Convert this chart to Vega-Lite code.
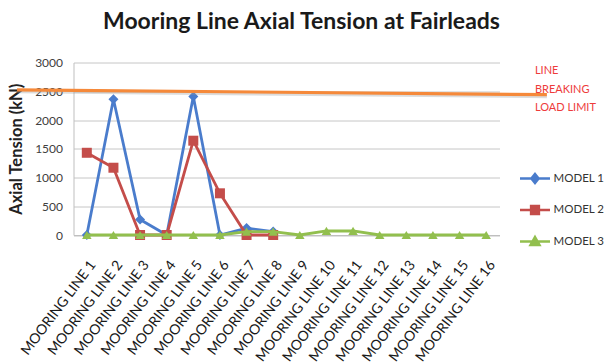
{
  "$schema": "https://vega.github.io/schema/vega-lite/v6.json",
  "autosize": {"type": "none"},
  "padding": {"left": 73.5, "top": 62.5, "right": 104.5, "bottom": 127},
  "width": 426,
  "height": 172.5,
  "background": "white",
  "title": {
    "text": "Mooring Line Axial Tension at Fairleads",
    "font": "Lato",
    "fontSize": 23,
    "fontWeight": "bold",
    "color": "#1a1a1a",
    "anchor": "middle",
    "dx": 15,
    "offset": 23
  },
  "config": {
    "view": {"stroke": null},
    "font": "Lato",
    "axis": {"labelOverlap": false}
  },
  "datasets": {
    "tension": [
      {"line": "MOORING LINE 1", "model": "MODEL 1", "kN": 0},
      {"line": "MOORING LINE 2", "model": "MODEL 1", "kN": 2360},
      {"line": "MOORING LINE 3", "model": "MODEL 1", "kN": 270},
      {"line": "MOORING LINE 4", "model": "MODEL 1", "kN": 0},
      {"line": "MOORING LINE 5", "model": "MODEL 1", "kN": 2410},
      {"line": "MOORING LINE 6", "model": "MODEL 1", "kN": 0},
      {"line": "MOORING LINE 7", "model": "MODEL 1", "kN": 120},
      {"line": "MOORING LINE 8", "model": "MODEL 1", "kN": 60},
      {"line": "MOORING LINE 1", "model": "MODEL 2", "kN": 1430},
      {"line": "MOORING LINE 2", "model": "MODEL 2", "kN": 1170},
      {"line": "MOORING LINE 3", "model": "MODEL 2", "kN": 0},
      {"line": "MOORING LINE 4", "model": "MODEL 2", "kN": 0},
      {"line": "MOORING LINE 5", "model": "MODEL 2", "kN": 1640},
      {"line": "MOORING LINE 6", "model": "MODEL 2", "kN": 725},
      {"line": "MOORING LINE 7", "model": "MODEL 2", "kN": 0},
      {"line": "MOORING LINE 8", "model": "MODEL 2", "kN": 0},
      {"line": "MOORING LINE 1", "model": "MODEL 3", "kN": 0},
      {"line": "MOORING LINE 2", "model": "MODEL 3", "kN": 0},
      {"line": "MOORING LINE 3", "model": "MODEL 3", "kN": 0},
      {"line": "MOORING LINE 4", "model": "MODEL 3", "kN": 0},
      {"line": "MOORING LINE 5", "model": "MODEL 3", "kN": 0},
      {"line": "MOORING LINE 6", "model": "MODEL 3", "kN": 0},
      {"line": "MOORING LINE 7", "model": "MODEL 3", "kN": 60},
      {"line": "MOORING LINE 8", "model": "MODEL 3", "kN": 60},
      {"line": "MOORING LINE 9", "model": "MODEL 3", "kN": 0},
      {"line": "MOORING LINE 10", "model": "MODEL 3", "kN": 70},
      {"line": "MOORING LINE 11", "model": "MODEL 3", "kN": 70},
      {"line": "MOORING LINE 12", "model": "MODEL 3", "kN": 0},
      {"line": "MOORING LINE 13", "model": "MODEL 3", "kN": 0},
      {"line": "MOORING LINE 14", "model": "MODEL 3", "kN": 0},
      {"line": "MOORING LINE 15", "model": "MODEL 3", "kN": 0},
      {"line": "MOORING LINE 16", "model": "MODEL 3", "kN": 0}
    ],
    "limit": [
      {"pos": -2.62, "kN": 2525},
      {"pos": 17.28, "kN": 2440}
    ],
    "limitLabel": [
      {"pos": 16.83, "kN": 2525, "label": "LINE\nBREAKING\nLOAD LIMIT"}
    ]
  },
  "encoding": {
    "y": {
      "field": "kN",
      "type": "quantitative",
      "scale": {"domain": [0, 3000], "nice": false},
      "axis": {
        "title": "Axial Tension (kN)",
        "titleFont": "Lato",
        "titleFontSize": 16.5,
        "titleFontWeight": "bold",
        "titleColor": "#222222",
        "titlePadding": 10,
        "values": [0, 500, 1000, 1500, 2000, 2500, 3000],
        "format": "d",
        "labelOverlap": false,
        "labelFont": "Lato",
        "labelFontSize": 12,
        "labelColor": "#404040",
        "labelPadding": 11,
        "ticks": false,
        "domainColor": "#bfbfbf",
        "gridColor": "#c6c6c6",
        "gridWidth": 1
      }
    }
  },
  "layer": [
    {
      "data": {"name": "tension"},
      "encoding": {
        "x": {
          "field": "line",
          "type": "ordinal",
          "sort": null,
          "scale": {"type": "point", "padding": 0.5},
          "axis": {
            "title": null,
            "labelAngle": -53,
            "labelAlign": "right",
            "labelBaseline": "middle",
            "labelFont": "Lato",
            "labelFontSize": 14,
            "labelColor": "#1a1a1a",
            "labelPadding": 27,
            "labelOffset": 6,
            "labelOverlap": false,
            "ticks": false,
            "domainColor": "#bfbfbf",
            "grid": false
          }
        },
        "color": {
          "field": "model",
          "type": "nominal",
          "scale": {
            "domain": ["MODEL 1", "MODEL 2", "MODEL 3"],
            "range": ["#4a7ccc", "#c44d4a", "#92bf4e"]
          },
          "legend": {
            "title": null,
            "orient": "none",
            "legendX": 445,
            "legendY": 99.5,
            "padding": 0,
            "symbolSize": 900,
            "symbolStrokeWidth": 2.5,
            "rowPadding": 5.5,
            "labelOffset": 2,
            "labelFont": "Lato",
            "labelFontSize": 11.5,
            "labelColor": "#333333",
            "encode": {
              "symbols": {
                "update": {
                  "shape": {"signal": "datum.value === 'MODEL 1' ? 'M-1,0H1M0,-0.3L0.24,0L0,0.3L-0.24,0Z' : datum.value === 'MODEL 2' ? 'M-1,0H1M-0.26,-0.26H0.26V0.26H-0.26Z' : 'M-1,0H1M0,-0.3L0.3,0.24H-0.3Z'"},
                  "fill": {"scale": "color", "field": "value"},
                  "stroke": {"scale": "color", "field": "value"},
                  "strokeWidth": {"value": 2.5},
                  "opacity": {"value": 1}
                }
              }
            }
          }
        }
      },
      "layer": [
        {
          "transform": [{"filter": "datum.model === 'MODEL 1'"}],
          "mark": {"type": "line", "strokeWidth": 2.8}
        },
        {
          "transform": [{"filter": "datum.model === 'MODEL 1'"}],
          "mark": {"type": "point", "filled": true, "opacity": 1, "shape": "diamond", "size": 100, "color": "#4a7ccc"},
          "encoding": {"color": {"value": "#4a7ccc"}}
        },
        {
          "transform": [{"filter": "datum.model === 'MODEL 2'"}],
          "mark": {"type": "line", "strokeWidth": 2.8}
        },
        {
          "transform": [{"filter": "datum.model === 'MODEL 2'"}],
          "mark": {"type": "point", "filled": true, "opacity": 1, "shape": "square", "size": 100, "color": "#c44d4a"},
          "encoding": {"color": {"value": "#c44d4a"}}
        },
        {
          "transform": [{"filter": "datum.model === 'MODEL 3'"}],
          "mark": {"type": "line", "strokeWidth": 2.8}
        },
        {
          "transform": [{"filter": "datum.model === 'MODEL 3'"}],
          "mark": {"type": "point", "filled": true, "opacity": 1, "shape": "triangle-up", "size": 90, "color": "#92bf4e"},
          "encoding": {"color": {"value": "#92bf4e"}}
        }
      ]
    },
    {
      "data": {"name": "limit"},
      "encoding": {
        "x": {
          "field": "pos",
          "type": "quantitative",
          "scale": {"domain": [-0.5, 15.5], "nice": false, "zero": false},
          "axis": null
        }
      },
      "layer": [
        {"mark": {"type": "line", "clip": false, "stroke": "#9a9a9a", "strokeWidth": 3, "opacity": 0.35, "yOffset": 2}},
        {"mark": {"type": "line", "clip": false, "stroke": "#f5893a", "strokeWidth": 3.2}}
      ]
    },
    {
      "data": {"name": "limitLabel"},
      "mark": {
        "type": "text",
        "clip": false,
        "align": "left",
        "baseline": "middle",
        "lineBreak": "\n",
        "lineHeight": 18.4,
        "dy": -18.4,
        "font": "Lato",
        "fontSize": 11,
        "color": "#ee3b3b"
      },
      "encoding": {
        "x": {
          "field": "pos",
          "type": "quantitative",
          "scale": {"domain": [-0.5, 15.5], "nice": false, "zero": false},
          "axis": null
        },
        "text": {"field": "label"}
      }
    }
  ],
  "resolve": {"scale": {"x": "independent"}}
}
